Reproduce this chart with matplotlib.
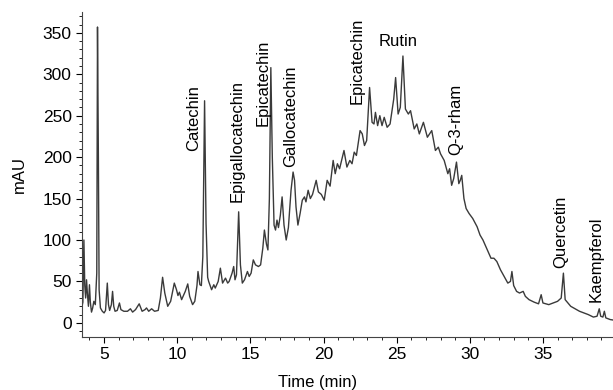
import numpy as np
import matplotlib
matplotlib.use('Agg')
import matplotlib.pyplot as plt
from matplotlib.ticker import MultipleLocator

# --- DATA ---
tempo = [3.47, 3.55, 3.62, 3.68, 3.74, 3.80, 3.86, 3.93, 4.00, 4.06, 4.14, 4.22, 4.30, 4.40,
         4.50, 4.55, 4.61, 4.66, 4.75, 4.88, 5.00, 5.10, 5.22, 5.30, 5.38, 5.50, 5.58, 5.66,
         5.75, 5.90, 6.05, 6.15, 6.35, 6.60, 6.80, 6.95, 7.15, 7.40, 7.60, 7.80, 7.90, 8.05,
         8.25, 8.45, 8.70, 8.85, 9.00, 9.15, 9.35, 9.55, 9.80, 9.95, 10.05, 10.15, 10.30,
         10.55, 10.72, 10.85, 11.05, 11.20, 11.35, 11.42, 11.55, 11.65, 11.75, 11.87, 11.97,
         12.08, 12.15, 12.35, 12.50, 12.60, 12.80, 12.95, 13.10, 13.30, 13.45, 13.55, 13.75,
         13.86, 13.95, 14.05, 14.20, 14.32, 14.45, 14.60, 14.80, 14.92, 15.05, 15.20, 15.35,
         15.55, 15.70, 15.85, 15.96, 16.10, 16.20, 16.30, 16.40, 16.50, 16.62, 16.72, 16.82,
         16.92, 17.05, 17.17, 17.30, 17.45, 17.60, 17.78, 17.92, 18.02, 18.12, 18.25, 18.40,
         18.55, 18.70, 18.80, 18.95, 19.10, 19.25, 19.50, 19.65, 19.85, 20.05, 20.25, 20.45,
         20.66, 20.80, 20.95, 21.10, 21.40, 21.60, 21.80, 21.95, 22.10, 22.25, 22.50, 22.65,
         22.80, 22.95, 23.15, 23.32, 23.45, 23.55, 23.70, 23.85, 24.00, 24.15, 24.35, 24.55,
         24.80, 24.93, 25.10, 25.25, 25.43, 25.60, 25.80, 25.95, 26.20, 26.38, 26.55, 26.83,
         27.10, 27.40, 27.65, 27.85, 28.00, 28.25, 28.50, 28.62, 28.76, 28.90, 29.09, 29.25,
         29.35, 29.45, 29.60, 29.75, 29.95, 30.20, 30.50, 30.70, 30.90, 31.20, 31.45, 31.65,
         31.85, 32.10, 32.35, 32.60, 32.78, 32.88, 33.00, 33.20, 33.40, 33.65, 33.80, 34.05,
         34.40, 34.70, 34.88, 35.00, 35.40, 35.70, 36.00, 36.25, 36.40, 36.52, 36.90, 37.30,
         37.50, 37.80, 38.10, 38.45, 38.70, 38.85, 38.95, 39.10, 39.20, 39.30, 39.60, 39.95]

sinal = [18, 25, 100, 45, 30, 52, 35, 20, 46, 25, 13, 18, 26, 22,
         60, 357, 200, 40, 18, 14, 12, 15, 48, 22, 15, 22, 38, 20,
         14, 15, 24, 16, 14, 14, 17, 13, 16, 23, 14, 16, 18, 14,
         17, 14, 15, 30, 55, 36, 20, 26, 48, 40, 33, 37, 28,
         38, 47, 32, 22, 26, 45, 62, 46, 45, 80, 268, 120,
         55, 50, 40, 46, 42, 50, 66, 48, 54, 48, 50, 60,
         68, 52, 58, 134, 70, 48, 52, 62, 56, 60, 76, 70,
         68, 70, 90, 112, 95, 88, 150, 308, 200, 118, 112, 124,
         115, 130, 152, 118, 100, 115, 160, 182, 172, 140, 118, 132,
         148, 152, 146, 160, 150, 155, 172, 158, 155, 148, 172, 165,
         196, 180, 192, 186, 208, 188, 196, 192, 206, 202, 232, 228,
         214, 220, 284, 242, 240, 254, 238, 250, 238, 248, 236, 240,
         270, 296, 252, 260, 322, 258, 252, 256, 234, 240, 228, 242,
         224, 232, 208, 212, 204, 196, 180, 186, 166, 174, 194, 168,
         172, 178, 150, 138, 132, 126, 116, 106, 100, 88, 78, 78,
         74, 64, 56, 48, 50, 62, 45, 38, 36, 38, 32, 28,
         25, 23, 34, 24, 22, 24, 26, 30, 60, 28, 20, 16,
         14, 12, 10, 7, 8, 17, 8, 7, 14, 6, 4, 3]

# Identificacao dos picos: nome, tempo da etiqueta, base da etiqueta (mAU)
picos_nome = ['Catechin', 'Epigallocatechin', 'Epicatechin', 'Gallocatechin',
              'Epicatechin', 'Q-3-rham', 'Quercetin', 'Kaempferol']
picos_t = [11.1, 14.08, 15.84, 17.74, 22.3, 29.04, 36.2, 38.63]
picos_v = [207, 146, 238, 188, 264, 202, 66, 25]

# Rutin fica na horizontal
rutin_t = 25.1
rutin_v = 340

plt.rcParams['font.family'] = ['Liberation Sans', 'DejaVu Sans']

fig = plt.figure(figsize=(6.13, 3.90), dpi=100)
ax = fig.add_axes([0.134, 0.136, 0.871, 0.833])

ax.plot(tempo, sinal, color='#3a3a3a', lw=1.0)

# Etiquetas verticais dos compostos
for nome, t, v in zip(picos_nome, picos_t, picos_v):
    ax.text(t, v, nome, rotation=90, ha='center', va='bottom', fontsize=12)
ax.text(rutin_t, rutin_v, 'Rutin', ha='center', va='center', fontsize=12)

ax.set_xlim(3.5, 40)
ax.set_ylim(-17, 375)

ax.xaxis.set_major_locator(MultipleLocator(5))
ax.xaxis.set_minor_locator(MultipleLocator(1))
ax.yaxis.set_major_locator(MultipleLocator(50))
ax.yaxis.set_minor_locator(MultipleLocator(10))
ax.set_xticks([5, 10, 15, 20, 25, 30, 35])

ax.tick_params(which='major', direction='out', length=4, width=0.8, labelsize=12.5)
ax.tick_params(which='minor', direction='out', length=2, width=0.6)

for lado in ['top', 'right']:
    ax.spines[lado].set_visible(False)
for lado in ['left', 'bottom']:
    ax.spines[lado].set_color('#444444')

ax.set_xlabel('Time (min)', fontsize=12)
ax.set_ylabel('mAU', fontsize=12)
ax.xaxis.set_label_coords(0.44, -0.118)
ax.yaxis.set_label_coords(-0.103, 0.5)

plt.savefig('out.png', dpi=100, facecolor='white')
plt.close(fig)
